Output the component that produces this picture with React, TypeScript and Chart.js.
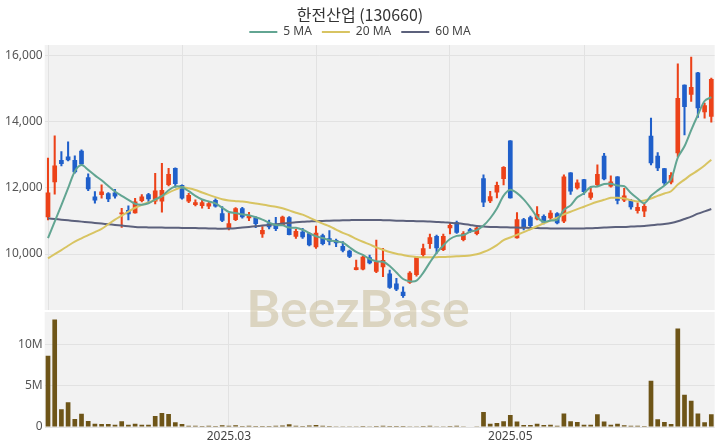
import React, { useEffect, useRef } from 'react';
import { Chart, registerables } from 'chart.js';

Chart.register(...registerables);

const chartTitle = '한전산업 (130660)';

const dates = [
  '2025-01-17','2025-01-20','2025-01-21','2025-01-22','2025-01-23','2025-01-24','2025-01-31','2025-02-03','2025-02-04','2025-02-05',
  '2025-02-06','2025-02-07','2025-02-10','2025-02-11','2025-02-12','2025-02-13','2025-02-14','2025-02-17','2025-02-18','2025-02-19',
  '2025-02-20','2025-02-21','2025-02-24','2025-02-25','2025-02-26','2025-02-27','2025-02-28','2025-03-04','2025-03-05','2025-03-06',
  '2025-03-07','2025-03-10','2025-03-11','2025-03-12','2025-03-13','2025-03-14','2025-03-17','2025-03-18','2025-03-19','2025-03-20',
  '2025-03-21','2025-03-24','2025-03-25','2025-03-26','2025-03-27','2025-03-28','2025-03-31','2025-04-01','2025-04-02','2025-04-03',
  '2025-04-04','2025-04-07','2025-04-08','2025-04-09','2025-04-10','2025-04-11','2025-04-14','2025-04-15','2025-04-16','2025-04-17',
  '2025-04-18','2025-04-21','2025-04-22','2025-04-23','2025-04-24','2025-04-25','2025-04-28','2025-04-29','2025-04-30','2025-05-02',
  '2025-05-07','2025-05-08','2025-05-09','2025-05-12','2025-05-13','2025-05-14','2025-05-15','2025-05-16','2025-05-19','2025-05-20',
  '2025-05-21','2025-05-22','2025-05-23','2025-05-26','2025-05-27','2025-05-28','2025-05-29','2025-05-30','2025-06-02','2025-06-04',
  '2025-06-05','2025-06-09','2025-06-10','2025-06-11','2025-06-12','2025-06-13','2025-06-16','2025-06-17','2025-06-18','2025-06-19',
];

const openPrices = [
  11111,12172,12848,12949,12848,13121,12323,11737,11788,11838,
  11859,11202,11333,11232,11606,11808,11586,11586,12091,12606,
  12091,11586,11485,11455,11434,11636,11232,10778,11030,11384,
  11081,11101,10596,10929,10879,10879,11111,10525,10677,10626,
  10202,10566,10475,10424,10242,10101,9515,9535,9899,9465,
  9596,9414,9111,8859,9131,9364,9970,10303,10545,10121,
  10778,10960,10424,10747,10606,12293,11600,11858,12270,13434,
  10476,11050,11111,11050,11151,11081,11232,10980,12465,11990,
  12262,11700,12091,12970,12040,12343,11616,11636,11300,11283,
  13576,12970,12596,12162,13050,15121,14818,15495,14290,14150,
];

const highPrices = [
  12899,13576,13101,13394,12970,13151,12424,11889,12091,11859,
  11960,11384,11455,11687,11798,11838,12444,12747,12596,12606,
  12091,11838,11636,11636,11586,11667,11434,11232,11404,11414,
  11263,11131,10828,11030,11111,11151,11131,10747,10778,10646,
  10848,10606,10707,10455,10374,10121,9818,9939,9970,10424,
  10172,9515,9263,9010,9465,9919,10303,10606,10576,10606,
  10929,11000,10677,10778,10828,12394,11900,12180,12646,13434,
  11252,11080,11151,11434,11182,11313,11252,12394,12465,12242,
  12262,12000,12697,13050,12364,12343,11990,11656,11550,11515,
  14111,13071,12596,12465,15757,15121,15959,15495,14565,15323,
];

const lowPrices = [
  11030,11808,12667,12818,12444,12687,11919,11535,11687,11586,
  11687,10808,11030,11232,11576,11586,11515,11263,12060,12020,
  11657,11556,11455,11384,11374,11414,10980,10727,11010,11081,
  11010,10798,10505,10758,10707,10859,10576,10475,10475,10242,
  10172,10273,10273,10222,10061,9889,9515,9515,9697,9434,
  9313,8960,8889,8687,9111,9333,9919,10172,10020,10101,
  10606,10626,10394,10646,10576,11434,11556,11700,12091,11687,
  10476,10727,10747,11030,10909,11050,10909,10949,11800,11960,
  11800,11650,12040,12242,12020,11515,11586,11353,11232,11131,
  12697,12525,12091,12121,12949,13600,14616,14130,14111,13990,
];

const closePrices = [
  11859,12677,12727,12838,12475,12717,11960,11616,11889,11657,
  11737,11253,11202,11586,11737,11657,11919,11939,12424,12121,
  11677,11788,11566,11566,11535,11434,11010,10929,11384,11111,
  11182,10909,10727,10808,10758,11131,10576,10697,10505,10263,
  10646,10303,10374,10323,10101,9919,9596,9919,9717,9768,
  9818,8980,8929,8727,9434,9899,10172,10505,10172,10545,
  10879,10646,10626,10677,10798,11560,11747,12091,12636,11687,
  11051,10808,10848,11212,10949,11252,10929,12343,11889,12161,
  11880,11860,12424,12263,12192,11610,11768,11414,11420,11454,
  12747,12596,12141,12394,14717,14450,15050,14414,14500,15292,
];

const volumes = [
  8600000,13000000,2150000,3000000,970000,1600000,730000,400000,360000,360000,
  280000,690000,280000,400000,280000,280000,1340000,1700000,1580000,570000,
  360000,160000,140000,130000,150000,120000,200000,160000,220000,120000,
  150000,130000,120000,130000,150000,180000,320000,140000,130000,180000,
  240000,160000,120000,100000,90000,100000,100000,120000,100000,110000,
  150000,120000,110000,120000,100000,100000,130000,150000,100000,90000,
  130000,140000,80000,70000,80000,1820000,400000,490000,690000,1460000,
  650000,240000,240000,400000,240000,280000,160000,1620000,690000,610000,
  280000,280000,1540000,650000,280000,400000,200000,160000,160000,120000,
  5600000,930000,610000,360000,11900000,3900000,3160000,1620000,570000,1540000,
];

const ma5 = [
  10480,10980,11480,11990,12500,12690,12545,12380,12230,12060,
  11890,11760,11640,11520,11490,11535,11650,11750,11930,12040,
  12020,11900,11760,11650,11590,11530,11400,11270,11240,11200,
  11170,11110,11040,10947,10877,10867,10800,10794,10733,10634,
  10537,10483,10418,10382,10349,10204,10063,9972,9850,9784,
  9764,9640,9442,9244,9178,9194,9432,9747,10036,10259,
  10455,10549,10574,10675,10725,10861,11082,11375,11766,11944,
  11842,11655,11406,11121,10974,11014,11038,11337,11472,11715,
  11840,12027,12043,12118,12124,12070,12051,11849,11681,11533,
  11761,11926,12072,12266,12919,13259,13750,14205,14629,14744,
];

const ma20 = [
  9870,9995,10120,10250,10373,10475,10570,10665,10760,10900,
  11040,11160,11280,11400,11485,11560,11636,11750,11859,11950,
  12020,11990,11939,11860,11788,11720,11657,11620,11600,11586,
  11560,11530,11500,11460,11430,11384,11320,11250,11190,11100,
  11010,10920,10840,10740,10640,10560,10460,10370,10290,10200,
  10130,10060,10010,9970,9930,9910,9900,9900,9905,9910,
  9920,9930,9940,9955,9990,10060,10150,10270,10420,10500,
  10580,10660,10750,10840,10930,11010,11100,11200,11280,11360,
  11430,11510,11580,11640,11700,11700,11680,11630,11590,11620,
  11680,11760,11830,11900,12100,12250,12400,12530,12680,12850,
];

const ma60 = [
  11080,11060,11040,11020,11000,10980,10960,10940,10920,10900,
  10880,10860,10840,10820,10810,10805,10800,10800,10795,10795,
  10790,10790,10785,10780,10775,10770,10765,10770,10780,10800,
  10820,10840,10860,10880,10900,10920,10940,10960,10975,10985,
  10995,11000,11010,11015,11020,11025,11030,11030,11030,11030,
  11025,11020,11010,11005,11000,10995,10990,10980,10970,10960,
  10945,10930,10910,10880,10850,10830,10820,10815,10810,10805,
  10800,10795,10790,10785,10780,10775,10770,10770,10770,10770,
  10775,10780,10790,10800,10810,10815,10820,10830,10840,10850,
  10870,10890,10910,10940,10990,11060,11130,11220,11290,11360,
];

const priceTicks = [10000, 12000, 14000, 16000];
const volumeTicks = [0, 5000000, 10000000];
const volumeTickLabels = ['0', '5M', '10M'];
const monthTickDates = ['2025-03-04', '2025-05-02'];
const monthTickLabels = ['2025.03', '2025.05'];
const priceGridDates = ['2025-01-17', '2025-02-20', '2025-03-21', '2025-04-18', '2025-05-21'];

const FONT = "'Noto Sans', 'Noto Sans CJK KR', sans-serif";
const UP = '#ec4219';
const DOWN = '#1f5fca';
const VOL = '#6e5518';
const BG = '#f2f2f2';
const GRID = '#e2e2e2';
const NONE = 'rgba(0,0,0,0)';
const C5 = '#62a592';
const C20 = '#d8c462';
const C60 = '#5c617c';
const AXIS_W = 44.65;
const RIGHT_W = 5.35;

const plotBg = {
  id: 'plotBg',
  beforeDraw(chart: any) {
    const { ctx, chartArea: a } = chart;
    ctx.save();
    ctx.fillStyle = BG;
    ctx.fillRect(a.left, a.top, a.right - a.left, a.bottom - a.top);
    ctx.restore();
  },
};

const headerFix = {
  id: 'headerFix',
  afterInit(chart: any) {
    const lg = chart.legend;
    if (lg && !lg.__patched) {
      const orig = lg.fit.bind(lg);
      lg.fit = function () {
        orig();
        this.height = Math.max(this.height - 11.2, 0);
      };
      lg.__patched = true;
    }
  },
  afterLayout(chart: any) {
    const lg = chart.legend;
    if (lg) {
      lg.top -= 8.2;
      lg.bottom -= 8.2;
    }
  },
};

const yAxisFit = (s: any) => {
  s.width = AXIS_W;
  s.paddingTop = 0;
  s.paddingBottom = 0;
};
const rightAxis = {
  position: 'right',
  display: true,
  grid: { display: false },
  ticks: { display: false },
  border: { display: false },
  afterFit: (s: any) => {
    s.width = RIGHT_W;
    s.paddingTop = 0;
    s.paddingBottom = 0;
  },
};

export default function App() {
  const topRef = useRef<HTMLCanvasElement>(null);
  const botRef = useRef<HTMLCanvasElement>(null);

  useEffect(() => {
    Chart.defaults.font.family = FONT;
    const candleColors = openPrices.map((o, i) => (closePrices[i] >= o ? UP : DOWN));
    const bodies = openPrices.map((o, i) => [o, closePrices[i]]);
    const wicks = lowPrices.map((l, i) => [l, highPrices[i]]);
    const priceGridIdx = priceGridDates.map((d) => dates.indexOf(d));
    const monthIdx = monthTickDates.map((d) => dates.indexOf(d));

    const top = new Chart(topRef.current as HTMLCanvasElement, {
      type: 'bar',
      data: {
        labels: dates,
        datasets: [
          { type: 'line', label: '5 MA', data: ma5, borderColor: C5, backgroundColor: C5, borderWidth: 2, pointRadius: 0, tension: 0.3, order: 0 } as any,
          { type: 'line', label: '20 MA', data: ma20, borderColor: C20, backgroundColor: C20, borderWidth: 2, pointRadius: 0, tension: 0.3, order: 0 } as any,
          { type: 'line', label: '60 MA', data: ma60, borderColor: C60, backgroundColor: C60, borderWidth: 2, pointRadius: 0, tension: 0.3, order: 0 } as any,
          { type: 'bar', label: 'body', data: bodies, backgroundColor: candleColors, borderWidth: 0, grouped: false, barPercentage: 0.7, categoryPercentage: 1, order: 1 } as any,
          { type: 'bar', label: 'wick', data: wicks, backgroundColor: candleColors, borderWidth: 0, grouped: false, barThickness: 1.4, order: 2 } as any,
        ],
      },
      options: {
        responsive: false,
        maintainAspectRatio: false,
        devicePixelRatio: 1,
        animation: false,
        events: [],
        layout: { padding: 0 },
        plugins: {
          title: {
            display: true,
            text: chartTitle,
            color: '#333',
            font: { family: "'Noto Sans CJK KR', 'Noto Sans', sans-serif", size: 16, weight: 'normal' },
            padding: { top: 5, bottom: 0 },
          },
          legend: {
            display: true,
            labels: {
              usePointStyle: true,
              pointStyle: 'line',
              pointStyleWidth: 28,
              padding: 10,
              color: '#444',
              font: { size: 12 },
              filter: (item: any) => item.datasetIndex < 3,
            },
          },
          tooltip: { enabled: false },
        },
        scales: {
          x: {
            offset: true,
            grid: {
              offset: false,
              drawTicks: false,
              color: (c: any) => (priceGridIdx.includes(c.index) ? GRID : NONE),
            },
            border: { display: false },
            ticks: { display: false, autoSkip: false },
            afterFit: (s: any) => {
              s.height = 0;
              s.paddingLeft = 0;
              s.paddingRight = 0;
            },
          },
          y: {
            min: 8306,
            max: 16324,
            afterBuildTicks: (s: any) => {
              s.ticks = priceTicks.map((v) => ({ value: v }));
            },
            grid: { color: GRID, drawTicks: false },
            border: { display: false },
            ticks: {
              padding: 2,
              color: '#555',
              font: { size: 12 },
              callback: (v: any) => Number(v).toLocaleString('en-US'),
            },
            afterFit: yAxisFit,
          },
          yr: rightAxis as any,
        },
      } as any,
      plugins: [plotBg, headerFix],
    });

    const bot = new Chart(botRef.current as HTMLCanvasElement, {
      type: 'bar',
      data: {
        labels: dates,
        datasets: [
          { label: 'Volume', data: volumes, backgroundColor: VOL, borderWidth: 0, barPercentage: 0.7, categoryPercentage: 1 },
        ],
      },
      options: {
        responsive: false,
        maintainAspectRatio: false,
        devicePixelRatio: 1,
        animation: false,
        events: [],
        layout: { padding: 0 },
        plugins: { legend: { display: false }, title: { display: false }, tooltip: { enabled: false } },
        scales: {
          x: {
            offset: true,
            grid: {
              offset: false,
              drawTicks: false,
              color: (c: any) => (monthIdx.includes(c.index) ? GRID : NONE),
            },
            border: { display: false },
            ticks: {
              autoSkip: false,
              maxRotation: 0,
              minRotation: 0,
              padding: 2,
              color: '#444',
              font: { size: 12 },
              callback: (_v: any, i: number) => {
                const k = monthIdx.indexOf(i);
                return k >= 0 ? monthTickLabels[k] : '';
              },
            },
            afterFit: (s: any) => {
              s.height = 21;
              s.paddingLeft = 0;
              s.paddingRight = 0;
            },
          },
          y: {
            min: 0,
            max: 13900000,
            afterBuildTicks: (s: any) => {
              s.ticks = volumeTicks.map((v) => ({ value: v }));
            },
            grid: { color: GRID, drawTicks: false },
            border: { display: false },
            ticks: {
              padding: 2,
              color: '#555',
              font: { size: 12 },
              callback: (_v: any, i: number) => volumeTickLabels[i],
            },
            afterFit: yAxisFit,
          },
          yr: rightAxis as any,
        },
      } as any,
      plugins: [plotBg],
    });

    return () => {
      top.destroy();
      bot.destroy();
    };
  }, []);

  return (
    <div style={{ position: 'fixed', left: 0, top: 0, width: 720, height: 448, background: '#fff', overflow: 'hidden' }}>
      <canvas ref={topRef} width={720} height={310} style={{ position: 'absolute', left: 0, top: 0 }} />
      <canvas ref={botRef} width={720} height={136} style={{ position: 'absolute', left: 0, top: 312 }} />
      <div
        style={{
          position: 'absolute',
          left: -2,
          top: 281,
          width: 720,
          textAlign: 'center',
          fontFamily: 'Lato, sans-serif',
          fontWeight: 700,
          fontSize: 52,
          lineHeight: 1,
          color: 'rgba(190,175,130,0.45)',
          pointerEvents: 'none',
          whiteSpace: 'nowrap',
        }}
      >
        BeezBase
      </div>
    </div>
  );
}
